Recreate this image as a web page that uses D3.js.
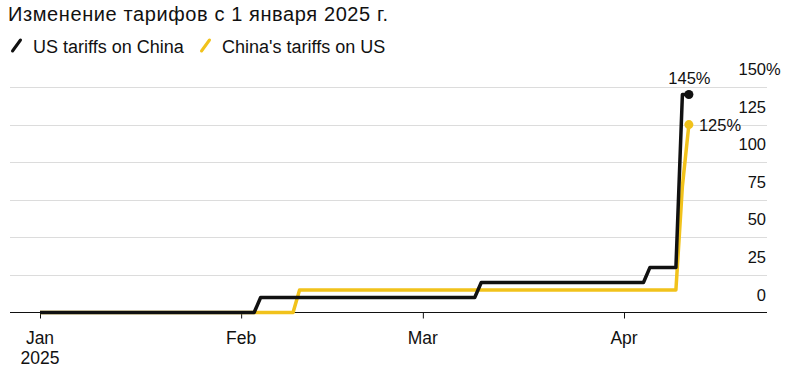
<!DOCTYPE html>
<html>
<head>
<meta charset="utf-8">
<script src="https://cdn.jsdelivr.net/npm/d3@7"></script>
<style>
  html, body { margin: 0; padding: 0; background: #fff; }
  svg { display: block; font-family: "Liberation Sans", Arial, sans-serif; }
</style>
</head>
<body>
<svg id="chart" width="788" height="373"></svg>
<script>
// ---- data ----
const title = "Изменение тарифов с 1 января 2025 г.";
const seriesNames = ["US tariffs on China", "China's tariffs on US"];
const seriesColors = ["#111111", "#f1c21b"];
const usDates = ["2025-01-01", "2025-02-03", "2025-02-04", "2025-03-09", "2025-03-10", "2025-04-04", "2025-04-05", "2025-04-09", "2025-04-10", "2025-04-11"];
const usValues = [0, 0, 10, 10, 20, 20, 30, 30, 145, 145];
const cnDates = ["2025-01-01", "2025-02-09", "2025-02-10", "2025-04-09", "2025-04-10", "2025-04-11"];
const cnValues = [0, 0, 15, 15, 84, 125];
const yTicks = [0, 25, 50, 75, 100, 125, 150];
const xTickDates = ["2025-01-01", "2025-02-01", "2025-03-01", "2025-04-01"];
const xTickLabels = [["Jan", "2025"], ["Feb"], ["Mar"], ["Apr"]];
const endLabels = ["145%", "125%"];

// ---- layout ----
const svg = d3.select("#chart");
const parse = d3.utcParse("%Y-%m-%d");
const plotLeft = 10, plotRight = 767;
const x = d3.scaleUtc().domain([parse("2025-01-01"), parse("2025-04-01")]).range([40, 624]);
const y = d3.scaleLinear().domain([0, 150]).range([312.5, 87]);

// title
svg.append("text").attr("x", 8).attr("y", 21).attr("font-size", 20)
  .attr("letter-spacing", 0.6).attr("fill", "#111").text(title);

// legend
const legendX = [10, 199];
seriesNames.forEach((name, i) => {
  const g = svg.append("g").attr("transform", `translate(${legendX[i]},0)`);
  g.append("line").attr("x1", 2.5).attr("y1", 51).attr("x2", 10.5).attr("y2", 40)
    .attr("stroke", seriesColors[i]).attr("stroke-width", 3).attr("stroke-linecap", "round");
  g.append("text").attr("x", 23).attr("y", 52.5).attr("font-size", 18).attr("fill", "#111").text(name);
});

// gridlines
svg.append("g").selectAll("line").data(yTicks.filter(d => d > 0)).join("line")
  .attr("x1", plotLeft).attr("x2", plotRight)
  .attr("y1", d => Math.round(y(d)) + 0.5).attr("y2", d => Math.round(y(d)) + 0.5)
  .attr("stroke", "#dcdcdc").attr("stroke-width", 1);

// y labels (right)
svg.append("g").selectAll("text").data(yTicks).join("text")
  .attr("x", plotRight - 1).attr("y", d => y(d) - 12)
  .attr("text-anchor", "end").attr("font-size", 16.5).attr("fill", "#111")
  .text(d => d);
svg.append("text").attr("x", plotRight - 1).attr("y", y(150) - 12)
  .attr("font-size", 16.5).attr("fill", "#111").text("%");

// x axis
const xAxis = d3.axisBottom(x)
  .tickValues(xTickDates.map(parse))
  .tickSize(6)
  .tickFormat(() => "");
const ax = svg.append("g").attr("transform", "translate(0,312.5)").call(xAxis);
ax.select(".domain").remove();
ax.selectAll(".tick line").attr("stroke", "#111");
svg.append("line").attr("x1", plotLeft).attr("x2", plotRight).attr("y1", 312.5).attr("y2", 312.5)
  .attr("stroke", "#111").attr("stroke-width", 1);
xTickDates.forEach((d, i) => {
  const t = svg.append("text").attr("x", x(parse(d))).attr("y", 344)
    .attr("text-anchor", "middle").attr("font-size", 17.5).attr("fill", "#111");
  xTickLabels[i].forEach((s, j) => {
    t.append("tspan").attr("x", x(parse(d))).attr("dy", j === 0 ? 0 : 20).text(s);
  });
});

// lines
const line = d3.line().x(d => x(d[0])).y(d => y(d[1]));
const series = [
  usDates.map((d, i) => [parse(d), usValues[i]]),
  cnDates.map((d, i) => [parse(d), cnValues[i]])
];
[1, 0].forEach(i => {
  svg.append("path").datum(series[i]).attr("d", line)
    .attr("fill", "none").attr("stroke", seriesColors[i]).attr("stroke-width", 3.5)
    .attr("stroke-linejoin", "round");
});
[0, 1].forEach(i => {
  const last = series[i][series[i].length - 1];
  svg.append("circle").attr("cx", x(last[0])).attr("cy", y(last[1])).attr("r", 4.5)
    .attr("fill", seriesColors[i]);
});
const lastUS = series[0][series[0].length - 1];
svg.append("text").attr("x", x(lastUS[0]) + 0.5).attr("y", y(lastUS[1]) - 11)
  .attr("text-anchor", "middle").attr("font-size", 16.5).attr("fill", "#111").text(endLabels[0]);
const lastCN = series[1][series[1].length - 1];
svg.append("text").attr("x", x(lastCN[0]) + 10).attr("y", y(lastCN[1]) + 6)
  .attr("font-size", 16.5).attr("fill", "#111").text(endLabels[1]);
</script>
</body>
</html>
